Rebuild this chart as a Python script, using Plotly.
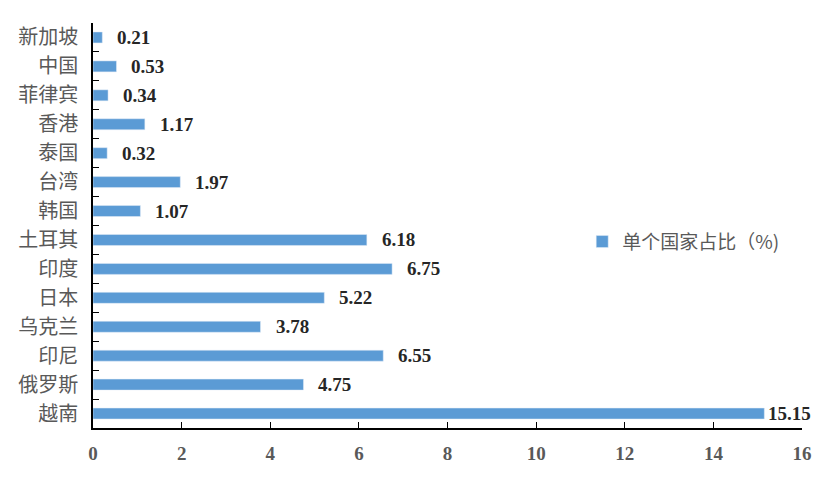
import plotly.graph_objects as go

categories = ["越南", "俄罗斯", "印尼", "乌克兰", "日本", "印度", "土耳其", "韩国", "台湾", "泰国", "香港", "菲律宾", "中国", "新加坡"]
values = [15.15, 4.75, 6.55, 3.78, 5.22, 6.75, 6.18, 1.07, 1.97, 0.32, 1.17, 0.34, 0.53, 0.21]
x_ticks = [0, 2, 4, 6, 8, 10, 12, 14, 16]
series_name = "单个国家占比（%)"

fig = go.Figure()
fig.add_trace(go.Bar(
    x=values, y=categories, orientation="h", name=series_name,
    marker=dict(color="#5B9BD5"), width=0.38,
    showlegend=True,
))
for c, v in zip(categories, values):
    fig.add_annotation(
        x=v, y=c, xref="x", yref="y", text=f"{v:.2f}", showarrow=False,
        xanchor="left", yanchor="middle", xshift=2 if v > 15 else 13,
        font=dict(family="Liberation Serif", size=19, color="#262626", weight="bold"),
    )
fig.update_layout(
    width=816, height=472,
    margin=dict(l=85, r=22, t=15, b=52),
    paper_bgcolor="white", plot_bgcolor="white",
    showlegend=True,
    legend=dict(x=0.69, y=0.46, xanchor="left", yanchor="middle",
                font=dict(family="Noto Sans CJK SC", size=19, color="#595959"),
                bgcolor="rgba(0,0,0,0)"),
    xaxis=dict(range=[0, 16], tickvals=x_ticks, showgrid=False, zeroline=False,
               showline=True, linecolor="black", linewidth=1.5, automargin=False,
               ticks="inside", ticklen=6, tickcolor="black",
               tickfont=dict(family="Liberation Serif", size=19, color="#595959", weight="bold"),
               ticklabelstandoff=7),
    yaxis=dict(type="category", categoryorder="array", categoryarray=categories,
               range=[-0.5, 13.5], showgrid=False, showline=True, linecolor="black",
               linewidth=1.5, ticks="inside", ticklen=6, tickcolor="black",
               tickson="boundaries", automargin=False, ticklabelstandoff=9,
               tickfont=dict(family="Noto Sans CJK SC", size=20, color="#595959")),
)
fig.write_html("out.html")
